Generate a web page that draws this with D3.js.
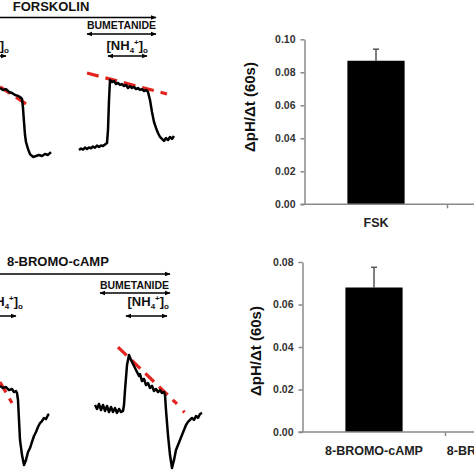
<!DOCTYPE html>
<html>
<head>
<meta charset="utf-8">
<script src="https://cdn.jsdelivr.net/npm/d3@7"></script>
<style>
html,body{margin:0;padding:0;background:#fff;}
svg{display:block;font-family:"Liberation Sans",Arial,sans-serif;}
</style>
</head>
<body>
<svg id="chart" width="474" height="474"></svg>
<script>
// ---------- DATA ----------
// pH traces: [time (s), pHi]
const traceFskBase = [[0,7.400],[6,7.389],[12,7.394],[18,7.378],[24,7.372],[30,7.361],[36,7.356],[40,7.350],[44,7.339],[46,7.289],[48,7.211],[50,7.139],[52,7.100],[56,7.061],[60,7.033],[66,7.017],[72,7.022],[78,7.028],[84,7.022],[90,7.033],[96,7.028],[102,7.044]];
const traceFskBum = [[158,7.056],[162,7.064],[166,7.058],[170,7.069],[174,7.061],[178,7.070],[182,7.065],[186,7.075],[190,7.068],[194,7.080],[198,7.072],[202,7.081],[206,7.078],[210,7.086],[214,7.094],[216,7.167],[218,7.333],[220,7.444],[224,7.433],[228,7.439],[232,7.422],[236,7.428],[240,7.417],[244,7.422],[248,7.411],[252,7.417],[256,7.400],[260,7.411],[264,7.400],[268,7.406],[272,7.394],[276,7.400],[280,7.389],[284,7.394],[288,7.383],[292,7.389],[296,7.378],[300,7.333],[304,7.267],[308,7.211],[312,7.178],[316,7.150],[320,7.128],[324,7.117],[328,7.106],[332,7.122],[336,7.111],[340,7.128],[344,7.117],[348,7.133]];
const traceBromoBase = [[0,7.267],[6,7.256],[12,7.261],[18,7.244],[24,7.250],[28,7.233],[32,7.239],[34,7.228],[36,7.189],[38,7.078],[40,6.967],[44,6.883],[48,6.828],[52,6.856],[56,6.900],[60,6.922],[64,6.956],[68,6.989],[72,7.011],[76,7.039],[80,7.061],[84,7.072],[88,7.089],[92,7.083],[96,7.106],[98,7.111]];
const traceBromoBum = [[190,7.161],[194,7.139],[198,7.167],[202,7.133],[206,7.161],[210,7.128],[214,7.156],[218,7.122],[222,7.150],[226,7.122],[230,7.144],[234,7.117],[238,7.139],[242,7.122],[246,7.128],[248,7.161],[250,7.244],[254,7.383],[258,7.439],[262,7.411],[266,7.389],[270,7.367],[274,7.344],[278,7.322],[280,7.333],[284,7.294],[288,7.306],[292,7.272],[296,7.283],[300,7.256],[304,7.267],[308,7.239],[312,7.250],[316,7.233],[320,7.244],[324,7.228],[328,7.233],[330,7.217],[332,7.133],[336,6.994],[340,6.883],[344,6.811],[348,6.856],[352,6.911],[356,6.939],[360,6.967],[364,6.994],[368,7.022],[372,7.050],[376,7.067],[380,7.078],[384,7.089],[388,7.078],[392,7.100],[396,7.089],[400,7.111],[404,7.117]];
// linear fits (red dashed)
const fitFskBase = [[0,7.406],[62,7.294]];
const fitFskBum = [[174,7.483],[334,7.367]];
const fitBromoBase = [[0,7.289],[24,7.172]];
const fitBromoBum = [[236,7.483],[354,7.167]];
const fitBromoDot = [[366,7.128],[369,7.120]];

// bar charts
const fskCategories = ["FSK", "FSK + BUM"];
const fskValues = [0.087, null];
const fskErrors = [0.007, null];
const fskTicks = [0.00, 0.02, 0.04, 0.06, 0.08, 0.10];

const bromoCategories = ["8-BROMO-cAMP", "8-BROMO-cAMP + BUM"];
const bromoValues = [0.068, null];
const bromoErrors = [0.0095, null];
const bromoTicks = [0.00, 0.02, 0.04, 0.06, 0.08];

const yLabel = "ΔpH/Δt (60s)";

// ---------- DRAW ----------
const svg = d3.select("#chart");
const red = "#e3231e";

const defs = svg.append("defs");
defs.append("marker").attr("id","ah").attr("viewBox","0 0 10 10").attr("refX",9).attr("refY",5)
  .attr("markerWidth",6).attr("markerHeight",6).attr("markerUnits","userSpaceOnUse").attr("orient","auto-start-reverse")
  .append("path").attr("d","M0,1 L10,5 L0,9 Z").attr("fill","#000");

// trace scales
const xTime = d3.scaleLinear().domain([0, 400]).range([0, 200]);
const yTop = d3.scaleLinear().domain([7.0, 7.5]).range([160, 70]);
const yBot = d3.scaleLinear().domain([6.8, 7.5]).range([470, 344]);

function drawTrace(data, y) {
  svg.append("path").datum(data)
    .attr("d", d3.line().x(d => xTime(d[0])).y(d => y(d[1])))
    .attr("fill","none").attr("stroke","#000").attr("stroke-width",2.5).attr("stroke-linejoin","round");
}
function drawFit(data, y, dashed=true) {
  svg.append("path").datum(data)
    .attr("d", d3.line().x(d => xTime(d[0])).y(d => y(d[1])))
    .attr("fill","none").attr("stroke",red).attr("stroke-width",3.2)
    .attr("stroke-dasharray", dashed ? "12,7" : null);
}
drawFit(fitFskBase, yTop);
drawFit(fitFskBum, yTop);
drawFit(fitBromoBase, yBot);
drawFit(fitBromoBum, yBot);
drawFit(fitBromoDot, yBot, false);
drawTrace(traceFskBase, yTop);
drawTrace(traceFskBum, yTop);
drawTrace(traceBromoBase, yBot);
drawTrace(traceBromoBum, yBot);

// annotations
function arrow(x1, x2, y, both) {
  svg.append("line").attr("x1",x1).attr("x2",x2).attr("y1",y).attr("y2",y)
    .attr("stroke","#000").attr("stroke-width",1.6)
    .attr("marker-end","url(#ah)").attr("marker-start", both ? "url(#ah)" : null);
}
function boldText(txt, x, y, size, anchor) {
  return svg.append("text").attr("x",x).attr("y",y).attr("font-size",size).attr("font-weight","bold")
    .attr("text-anchor",anchor||"start").attr("fill","#111").text(txt);
}
function nh4(xEnd, y) {
  const t = svg.append("text").attr("x",xEnd).attr("y",y).attr("text-anchor","end")
    .attr("font-size",13).attr("font-weight","bold").attr("fill","#111");
  t.append("tspan").text("[NH");
  t.append("tspan").attr("font-size",8).attr("dy",3).text("4");
  t.append("tspan").attr("font-size",8).attr("dy",-8).text("+");
  t.append("tspan").attr("dy",5).text("]");
  t.append("tspan").attr("font-size",8).attr("dy",3).text("o");
}
// top panel
boldText("FORSKOLIN", 51, 10.5, 13, "middle");
arrow(-5, 156, 17.5, false);
boldText("BUMETANIDE", 121.5, 29, 10.5, "middle");
arrow(87, 156, 34, true);
nh4(148, 50);
arrow(108, 147, 56, true);
nh4(9, 50);
arrow(-30, 6, 56, true);
// bottom panel
boldText("8-BROMO-cAMP", 7, 266, 13, "start");
arrow(-5, 170, 274, false);
boldText("BUMETANIDE", 134.5, 289, 10.5, "middle");
arrow(100, 170, 293, true);
nh4(169, 306);
arrow(126, 167, 316, true);
nh4(23, 306);
arrow(-20, 16, 316, true);

// bar charts
function barChart(opts) {
  const {cats, vals, errs, ticks, yMax, x0, y0, y1, labelX, labelY, catY, catSize} = opts;
  const g = svg.append("g");
  const y = d3.scaleLinear().domain([0, yMax]).range([y0, y1]);
  const x = d3.scaleBand().domain(cats).range([x0, x0 + 2*143]).paddingInner(0).paddingOuter(0);
  const bw = x.bandwidth() * 0.4;
  const axisColor = "#8a8a8a";
  cats.forEach((c, i) => {
    if (vals[i] == null) return;
    const cx = x(c) + x.bandwidth()/2;
    g.append("line").attr("x1",cx).attr("x2",cx).attr("y1",y(vals[i])).attr("y2",y(vals[i]+errs[i]))
      .attr("stroke","#555").attr("stroke-width",1.5);
    g.append("line").attr("x1",cx-3).attr("x2",cx+3).attr("y1",y(vals[i]+errs[i])).attr("y2",y(vals[i]+errs[i]))
      .attr("stroke","#555").attr("stroke-width",1.5);
    g.append("rect").attr("x",cx-bw/2).attr("width",bw).attr("y",y(vals[i])).attr("height",y(0)-y(vals[i]))
      .attr("fill","#000");
  });
  const ya = g.append("g").attr("transform",`translate(${x0},0)`)
    .call(d3.axisLeft(y).tickValues(ticks).tickFormat(d3.format(".2f")).tickSize(4).tickSizeOuter(0).tickPadding(5));
  ya.select(".domain").attr("stroke",axisColor).attr("stroke-width",1.5);
  ya.selectAll(".tick line").attr("stroke",axisColor).attr("stroke-width",1.5);
  ya.selectAll(".tick text").attr("font-size",10.5).attr("font-weight","bold").attr("fill","#333")
    .attr("font-family","'Liberation Sans',Arial,sans-serif");
  g.append("line").attr("x1",x0-4).attr("x2",480).attr("y1",y(0)).attr("y2",y(0))
    .attr("stroke",axisColor).attr("stroke-width",1.5);
  cats.forEach((c,i) => {
    const bx = x(c) + x.bandwidth();
    g.append("line").attr("x1",bx).attr("x2",bx).attr("y1",y(0)).attr("y2",y(0)+4)
      .attr("stroke",axisColor).attr("stroke-width",1.5);
    g.append("text").attr("x", x(c)+x.bandwidth()/2).attr("y",catY).attr("text-anchor","middle")
      .attr("font-size",catSize).attr("font-weight","bold").attr("fill","#222").text(c);
  });
  g.append("text").attr("transform",`translate(${labelX},${labelY}) rotate(-90)`)
    .attr("text-anchor","middle").attr("dominant-baseline","central")
    .attr("font-size",15).attr("font-weight","bold").attr("fill","#111").text(yLabel);
}
barChart({cats: fskCategories, vals: fskValues, errs: fskErrors, ticks: fskTicks, yMax: 0.10,
  x0: 304.5, y0: 204.3, y1: 39.3, labelX: 249, labelY: 107, catY: 227, catSize: 12.5});
barChart({cats: bromoCategories, vals: bromoValues, errs: bromoErrors, ticks: bromoTicks, yMax: 0.08,
  x0: 302.5, y0: 432, y1: 262, labelX: 255, labelY: 351, catY: 455, catSize: 12.5});
</script>
</body>
</html>
